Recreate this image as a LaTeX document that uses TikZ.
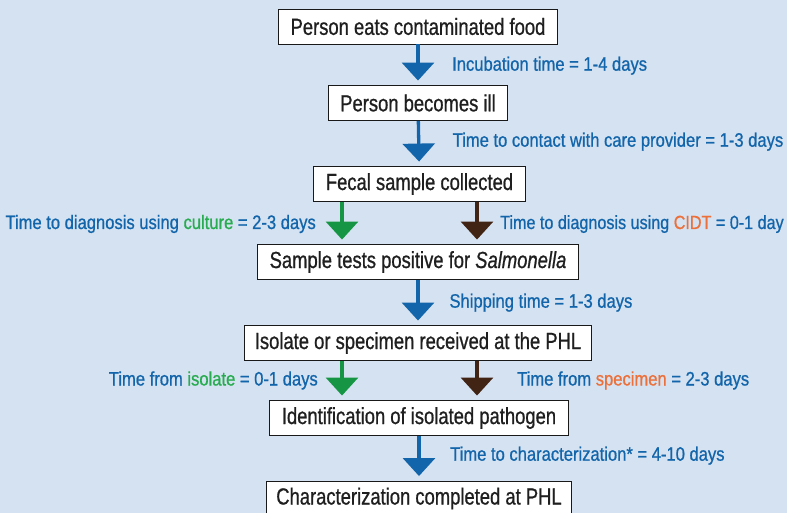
\documentclass[tikz,border=0pt]{standalone}
\usepackage{fontspec}
\setmainfont{Liberation Sans}
\newfontfamily\stagefont[FakeStretch=0.79,FakeBold=0.8]{Liberation Sans}
\newfontfamily\notefont[FakeStretch=0.85,FakeBold=0.8]{Liberation Sans}
\usetikzlibrary{arrows.meta}
\definecolor{bgblue}{RGB}{213,226,241}
\definecolor{txtblue}{RGB}{18,101,170}
\definecolor{culturegreen}{RGB}{22,150,68}
\definecolor{greentext}{RGB}{40,172,80}
\definecolor{cidtbrown}{RGB}{66,36,20}
\definecolor{cidtorange}{RGB}{236,112,58}

\begin{document}
\begin{tikzpicture}[x=1pt,y=-1pt,
    stage/.style={draw=black!90,line width=0.9pt,fill=white,minimum height=35pt,
      inner xsep=12pt,inner ysep=0pt,text=black!88,font=\stagefont\fontsize{23.3}{26}\selectfont},
    note/.style={text=txtblue,inner sep=0pt,font=\notefont\fontsize{19.5}{22}\selectfont},
    flow/.style={line width=3.3pt,shorten >=4.5pt,-{Triangle[width=32pt,length=18pt]}},
    blueflow/.style={flow,draw=txtblue},
    greenflow/.style={flow,draw=culturegreen},
    brownflow/.style={flow,draw=cidtbrown}]
  \useasboundingbox (0,0) rectangle (787,513);
  \clip (0,0) rectangle (787,513);
  \fill[bgblue] (0,0) rectangle (787,513);

  % stages
  \node[stage] (eat) at (418,26.5) {Person eats contaminated food};
  \node[stage] (ill) at (418,103) {Person becomes ill};
  \node[stage] (fecal) at (419.5,184) {Fecal sample collected};
  \node[stage] (sample) at (418,262) {Sample tests positive for \textit{Salmonella}};
  \node[stage,inner xsep=10pt] (phl) at (418,343) {Isolate or specimen received at the PHL};
  \node[stage] (ident) at (419,418) {Identification of isolated pathogen};
  \node[stage,inner xsep=10pt] (charact) at (419,498.5) {Characterization completed at PHL};

  % arrows
  \draw[blueflow] (eat) -- (ill);
  \draw[blueflow] (ill) -- (fecal);
  \draw[greenflow] ([xshift=-77.5pt]fecal.south) -- ([xshift=-76pt]sample.north);
  \draw[brownflow] ([xshift=57.5pt]fecal.south) -- ([xshift=59pt]sample.north);
  \draw[blueflow] (sample) -- (phl);
  \draw[greenflow] ([xshift=-76pt]phl.south) -- ([xshift=-77pt]ident.north);
  \draw[brownflow] ([xshift=59pt]phl.south) -- ([xshift=58pt]ident.north);
  \draw[blueflow] (ident) -- (charact);

  % times
  \node[note,anchor=base west] (incub) at (452,70.7) {Incubation time = 1-4 days};
  \node[note,anchor=base west] (contact) at (452.5,146.7) {Time to contact with care provider = 1-3 days};
  \node[note,anchor=base east] (culture) at (316,229) {Time to diagnosis using {\color{greentext}culture} = 2-3 days};
  \node[note,anchor=base west,font=\notefont\fontsize{19}{22}\selectfont] (cidt) at (500,229)
    {Time to diagnosis using {\color{cidtorange}CIDT} = 0-1 day};
  \node[note,anchor=base west] (ship) at (449.3,307.7) {Shipping time = 1-3 days};
  \node[note,anchor=base east] (isolate) at (318,385.5) {Time from {\color{greentext}isolate} = 0-1 days};
  \node[note,anchor=base west] (specimen) at (517,385.5) {Time from {\color{cidtorange}specimen} = 2-3 days};
  \node[note,anchor=base west] (charactime) at (450,460.7) {Time to characterization* = 4-10 days};
\end{tikzpicture}
\end{document}
